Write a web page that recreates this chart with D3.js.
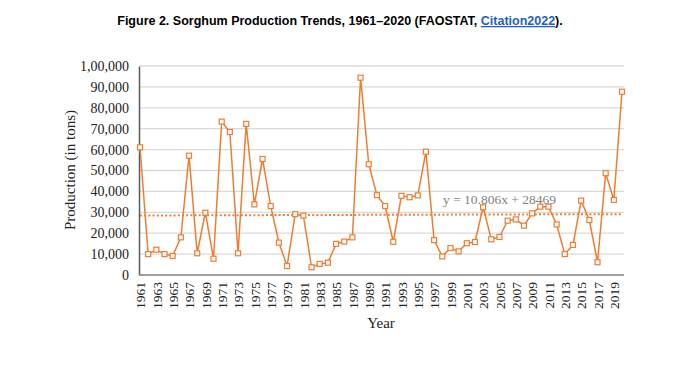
<!DOCTYPE html>
<html><head><meta charset="utf-8">
<script src="https://cdn.jsdelivr.net/npm/d3@7"></script>
<style>body{margin:0;background:#fff;}svg{display:block;}</style>
</head><body>
<svg id="chart" width="681" height="383"></svg>
<script>
const years = d3.range(1961, 2021);
const production = [
 61100,10000,12100,10000,9100,18000,57100,10400,29800,7800,
 73400,68400,10400,72300,33800,55500,33000,15500,4300,29100,
 28400,3700,5300,5900,14900,16000,18000,94400,53000,38200,
 33000,15900,37900,37200,38100,59000,16700,8900,12900,11300,
 15200,15800,32400,17100,18200,26000,26600,23600,29500,32700,
 32700,24200,10000,14400,35600,26300,6100,48700,35900,87700];
const yTicks = [0,10000,20000,30000,40000,50000,60000,70000,80000,90000,100000];
const yTickLabels = ["0","10,000","20,000","30,000","40,000","50,000","60,000","70,000","80,000","90,000","1,00,000"];
const xTickYears = d3.range(1961, 2020, 2);
const trendSlope = 10.806, trendIntercept = 28469;
const trendLabel = "y = 10.806x + 28469";

const svg = d3.select("#chart");
const x = d3.scaleLinear().domain([1961, 2020]).range([140, 622]);
const y = d3.scaleLinear().domain([0, 100000]).range([275, 66]);
const serif = "'Liberation Serif','Times New Roman',serif";
const orange = "#ED7D31";

// Title
const title = svg.append("text").attr("x", 340).attr("y", 25).attr("text-anchor", "middle")
  .attr("font-family", "'Liberation Sans',Arial,sans-serif").attr("font-weight", "bold").attr("font-size", 12.5).attr("fill", "#000");
title.append("tspan").text("Figure 2. Sorghum Production Trends, 1961\u20132020 (FAOSTAT, ");
title.append("tspan").text("Citation2022").attr("fill", "#1F5FC4").attr("text-decoration", "underline");
title.append("tspan").text(").");

// Gridlines
svg.append("g").selectAll("line").data(yTicks.slice(1)).join("line")
  .attr("x1", 140).attr("x2", 624).attr("y1", d => y(d)).attr("y2", d => y(d))
  .attr("stroke", "#d9d9d9").attr("stroke-width", 1.3);

// Y axis
const yAxis = d3.axisLeft(y).tickValues(yTicks).tickFormat((d, i) => yTickLabels[i]).tickSize(0).tickPadding(10);
const gy = svg.append("g").attr("transform", "translate(139,0)").call(yAxis);
gy.select(".domain").attr("stroke", "#595959").attr("stroke-width", 1.5);
gy.selectAll("text").attr("font-family", serif).attr("font-size", 14).attr("fill", "#222");

// X axis
const xAxis = d3.axisBottom(x).tickValues(xTickYears).tickFormat(d3.format("d")).tickSize(0).tickPadding(0);
const gx = svg.append("g").attr("transform", "translate(0,275)").call(xAxis);
gx.select(".domain").attr("d", "M139,0H624").attr("stroke", "#808080").attr("stroke-width", 1.5);
gx.selectAll("text").attr("font-family", serif).attr("font-size", 13.5).attr("fill", "#222")
  .attr("transform", "rotate(-90)").attr("text-anchor", "end").attr("x", -7).attr("y", 0).attr("dy", "0.35em");

// Axis titles
svg.append("text").attr("transform", "translate(75,170) rotate(-90)").attr("text-anchor", "middle")
  .attr("font-family", serif).attr("font-size", 15).attr("fill", "#222").text("Production (in tons)");
svg.append("text").attr("x", 381).attr("y", 328).attr("text-anchor", "middle")
  .attr("font-family", serif).attr("font-size", 15).attr("fill", "#222").text("Year");

// Trend line
const trend = years.map((yr, i) => ({yr, v: trendIntercept + trendSlope * (i + 1)}));
svg.append("path").datum(trend)
  .attr("d", d3.line().x(d => x(d.yr)).y(d => y(d.v)))
  .attr("fill", "none").attr("stroke", orange).attr("stroke-width", 2).attr("stroke-dasharray", "2,2.2");

// Series line
const data = years.map((yr, i) => ({yr, v: production[i]}));
svg.append("path").datum(data)
  .attr("d", d3.line().x(d => x(d.yr)).y(d => y(d.v)))
  .attr("fill", "none").attr("stroke", orange).attr("stroke-width", 1.5);

svg.append("g").selectAll("rect").data(data).join("rect")
  .attr("x", d => x(d.yr) - 2.5).attr("y", d => y(d.v) - 2.5).attr("width", 5).attr("height", 5)
  .attr("fill", "#fff").attr("stroke", orange).attr("stroke-width", 1.2);

// Trend label
svg.append("text").attr("x", 443).attr("y", 204).attr("font-family", serif).attr("font-size", 13.5)
  .attr("fill", "#7f7f7f").text(trendLabel);
</script>
</body></html>
